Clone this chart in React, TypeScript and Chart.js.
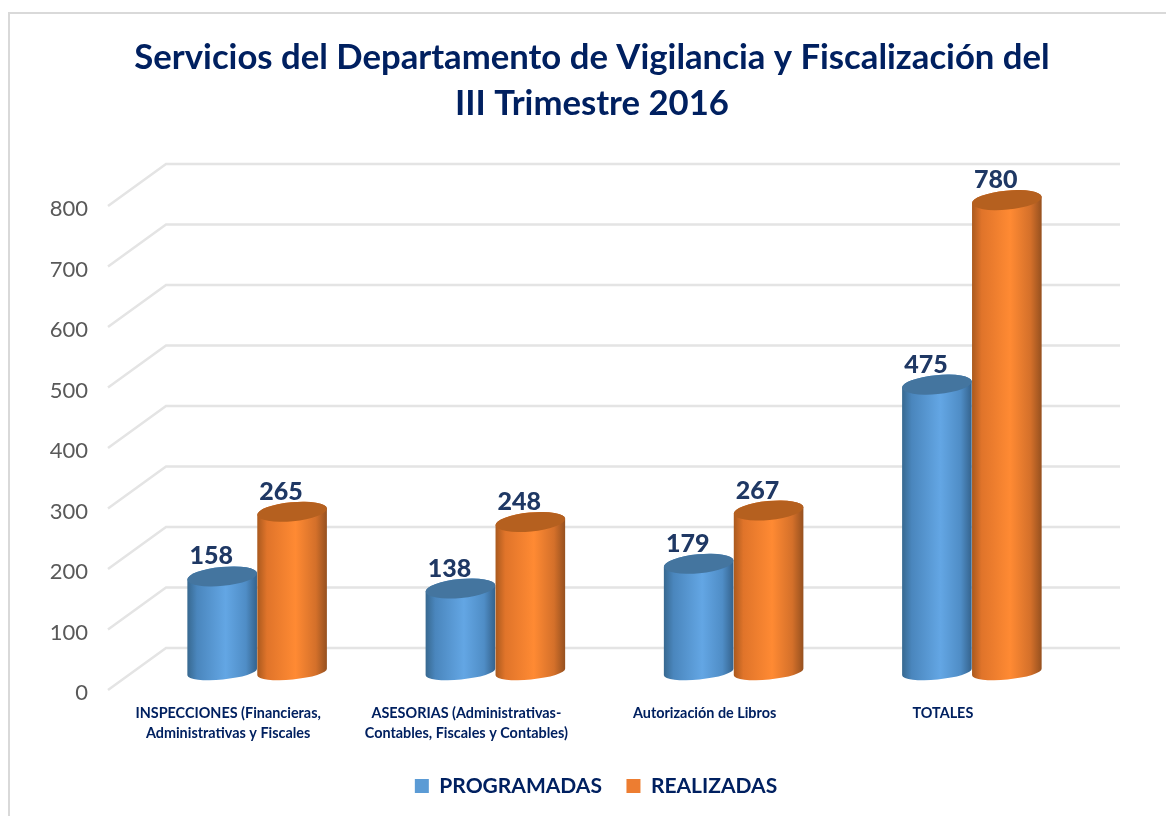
import React, { useEffect, useRef } from "react";
import { Chart, registerables } from "chart.js";

Chart.register(...registerables);

const categories = [
  ["INSPECCIONES (Financieras,", "Administrativas y Fiscales"],
  ["ASESORIAS (Administrativas-", "Contables, Fiscales y Contables)"],
  ["Autorización de Libros"],
  ["TOTALES"],
];
const programadas = [158, 138, 179, 475];
const realizadas = [265, 248, 267, 780];
const titleLines = [
  "Servicios del Departamento de Vigilancia y Fiscalización del",
  "III Trimestre 2016",
];

const FONT = "Lato, Carlito, sans-serif";
const NAVY = "#002060";
const LABEL_NAVY = "#1f3864";

const blueStops = ["#37688f", "#4a86bd", "#63a6e4", "#4f8dc6", "#34628c"];
const orangeStops = ["#a9591e", "#e0742a", "#ff8a33", "#d4702a", "#95501f"];
const stopPositions = [0, 0.14, 0.55, 0.84, 1];
const capColors = ["#44759f", "#b5601f"];

const cylinders = {
  id: "cylinders",
  beforeDatasetDraw() {
    return false;
  },
  beforeDatasetsDraw(chart: any) {
    const { ctx, scales } = chart;
    const yS = scales.y;
    const right = 1120;
    const frontX = 108;
    const backX = 166;
    // receding gridlines on the side and back walls
    ctx.save();
    ctx.strokeStyle = "#e4e4e4";
    ctx.lineWidth = 2.5;
    yS.ticks.forEach((t: any) => {
      const p = yS.getPixelForValue(t.value);
      ctx.beginPath();
      ctx.moveTo(frontX, p + 18);
      ctx.lineTo(backX, p - 24);
      ctx.lineTo(right, p - 24);
      ctx.stroke();
    });
    ctx.restore();

    const theta = (5.5 * Math.PI) / 180;
    [0, 1].forEach((di) => {
      const meta = chart.getDatasetMeta(di);
      const stops = di === 0 ? blueStops : orangeStops;
      meta.data.forEach((el: any) => {
        const { x, y, base, width } = el.getProps(["x", "y", "base", "width"], true);
        const rx = width / 2;
        const ry = 9.5;
        const g = ctx.createLinearGradient(x - rx, 0, x + rx, 0);
        stops.forEach((c, k) => g.addColorStop(stopPositions[k], c));
        ctx.save();
        ctx.beginPath();
        ctx.ellipse(x, base, rx, 7.5, -theta, 0, Math.PI);
        ctx.ellipse(x, y, rx, ry, -theta, Math.PI, 2 * Math.PI);
        ctx.closePath();
        ctx.fillStyle = g;
        ctx.fill();
        ctx.beginPath();
        ctx.ellipse(x, y, rx, ry, -theta, 0, 2 * Math.PI);
        ctx.fillStyle = capColors[di];
        ctx.fill();
        ctx.restore();
      });
    });
    // value labels, above every cap
    [0, 1].forEach((di) => {
      const meta = chart.getDatasetMeta(di);
      const values = chart.data.datasets[di].data;
      meta.data.forEach((el: any, i: number) => {
        const { x, y } = el.getProps(["x", "y"], true);
        ctx.save();
        ctx.font = `900 25px ${FONT}`;
        ctx.fillStyle = LABEL_NAVY;
        ctx.textAlign = "center";
        ctx.textBaseline = "middle";
        ctx.fillText(String(values[i]), x - 11, y - 20);
        ctx.restore();
      });
    });
  },
};

const shiftBoxes = {
  id: "shiftBoxes",
  afterLayout(chart: any) {
    chart.titleBlock.left += 26.5;
    chart.titleBlock.right += 26.5;
    chart.legend.left += 30.5;
    chart.legend.right += 30.5;
  },
};

export default function App() {
  const ref = useRef<HTMLCanvasElement>(null);
  useEffect(() => {
    document.body.style.margin = "0";
    const chart = new Chart(ref.current as HTMLCanvasElement, {
      type: "bar",
      data: {
        labels: categories as any,
        datasets: [
          { label: "PROGRAMADAS", data: programadas, backgroundColor: "#5b9bd5", borderWidth: 0 },
          { label: "REALIZADAS", data: realizadas, backgroundColor: "#ed7d31", borderWidth: 0 },
        ],
      },
      plugins: [cylinders, shiftBoxes],
      options: {
        responsive: false,
        animation: false,
        layout: { padding: { left: 40, right: 75, top: 0, bottom: 9.5 } },
        datasets: { bar: { categoryPercentage: 0.587, barPercentage: 1 } },
        plugins: {
          title: {
            display: true,
            text: titleLines,
            color: NAVY,
            font: { family: FONT, size: 34.7, weight: "bold", lineHeight: 1.326 },
            padding: { top: 35, bottom: 61 },
          },
          legend: {
            position: "bottom",
            labels: {
              color: NAVY,
              font: { family: FONT, size: 21, weight: "bold" },
              boxWidth: 14,
              boxHeight: 14,
              padding: 24.5,
            },
          },
          tooltip: { enabled: false },
        },
        scales: {
          x: {
            grid: { display: false },
            border: { display: false },
            afterFit: (s: any) => {
              s.height = 79;
            },
            ticks: {
              color: NAVY,
              font: { family: FONT, size: 14.4, weight: "bold", lineHeight: 1.39 },
              maxRotation: 0,
              autoSkip: false,
              labelOffset: -29,
              padding: 23,
            },
          },
          y: {
            min: 0,
            max: 800,
            grid: { display: false, drawTicks: false },
            border: { display: false },
            afterFit: (s: any) => {
              s.width = 98;
            },
            ticks: {
              stepSize: 100,
              color: "#595959",
              font: { family: FONT, size: 22 },
              padding: 50,
              labelOffset: 21,
            },
          },
        },
      },
    } as any);
    return () => chart.destroy();
  }, []);
  return (
    <div style={{ position: "relative", width: 1166, height: 816, overflow: "hidden", background: "#fff" }}>
      <div
        style={{
          position: "absolute",
          left: 8,
          top: 12,
          width: 1180,
          height: 830,
          border: "2px solid #d9d9d9",
          boxSizing: "border-box",
        }}
      />
      <canvas ref={ref} width={1166} height={816} style={{ position: "absolute", left: 0, top: 0 }} />
    </div>
  );
}
